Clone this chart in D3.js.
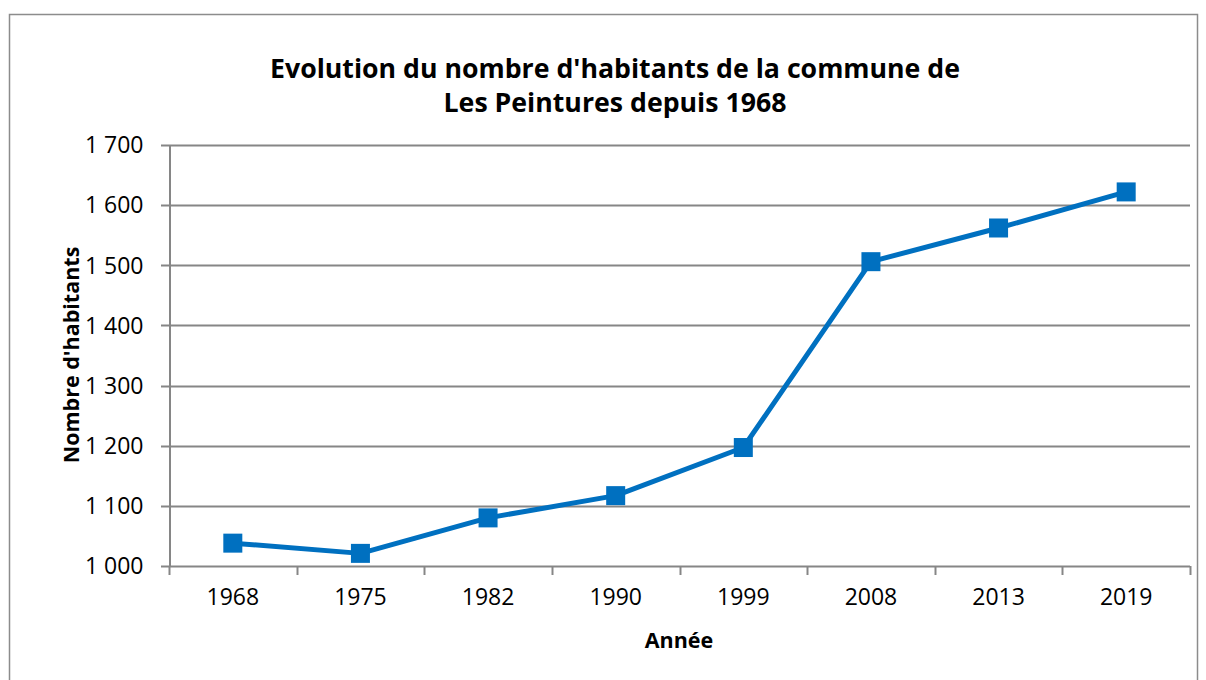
<!DOCTYPE html>
<html>
<head>
<meta charset="utf-8">
<script src="https://cdn.jsdelivr.net/npm/d3@7"></script>
<style>
  body { margin: 0; background: #fff; }
  text { font-family: "Open Sans", "Noto Sans", sans-serif; }
</style>
</head>
<body>
<div id="chart"></div>
<script>
// Data
const years = ['1968', '1975', '1982', '1990', '1999', '2008', '2013', '2019'];
const habitants = [1038, 1021, 1080, 1117, 1197, 1506, 1562, 1622];
const yTicks = [1000, 1100, 1200, 1300, 1400, 1500, 1600, 1700];
const titleLines = ["Evolution du nombre d'habitants de la commune de", "Les Peintures depuis 1968"];

const width = 1206, height = 680;
const margin = { top: 145, right: 16, bottom: 114, left: 169 };

const svg = d3.select('#chart')
    .append('svg')
    .attr('width', width)
    .attr('height', height);

// Chart frame
svg.append('rect')
    .attr('x', 9.5).attr('y', 14.5)
    .attr('width', 1188).attr('height', 700)
    .attr('fill', '#fff')
    .attr('stroke', '#8c8c8c')
    .attr('stroke-width', 1.5);

const x = d3.scaleBand()
    .domain(years)
    .range([margin.left, width - margin.right]);

const y = d3.scaleLinear()
    .domain([1000, 1700])
    .range([height - margin.bottom, margin.top]);

const fmt = d => d3.format(',')(d).replace(',', ' ');

// Gridlines
svg.append('g')
    .selectAll('line')
    .data(yTicks)
    .enter().append('line')
    .attr('x1', margin.left - 8)
    .attr('x2', width - margin.right)
    .attr('y1', d => Math.round(y(d)) + 0.5)
    .attr('y2', d => Math.round(y(d)) + 0.5)
    .attr('stroke', '#868686')
    .attr('stroke-width', 2);

// Y axis
const yAxis = svg.append('g')
    .attr('transform', `translate(${margin.left + 0.5},0)`)
    .call(d3.axisLeft(y).tickValues(yTicks).tickFormat(fmt).tickSize(0).tickPadding(26));
yAxis.select('.domain').attr('stroke', '#868686').attr('stroke-width', 2);
yAxis.selectAll('text')
    .style('font-size', '23px')
    .attr('fill', '#000')
    .attr('dy', '0.34em')
    .attr('font-family', 'Open Sans, sans-serif');

// X axis
const xAxis = svg.append('g')
    .attr('transform', `translate(0,${Math.round(y(1000)) + 0.5})`)
    .call(d3.axisBottom(x).tickSize(0).tickPadding(22));
xAxis.select('.domain').remove();
xAxis.selectAll('text')
    .style('font-size', '23px')
    .attr('fill', '#000')
    .attr('font-family', 'Open Sans, sans-serif');

// X tick marks between categories
const xEdges = years.map(d => x(d)).concat([x(years[years.length - 1]) + x.bandwidth()]);
svg.append('g')
    .selectAll('line')
    .data(xEdges)
    .enter().append('line')
    .attr('x1', d => Math.round(d) + 0.5)
    .attr('x2', d => Math.round(d) + 0.5)
    .attr('y1', y(1000))
    .attr('y2', y(1000) + 9)
    .attr('stroke', '#868686')
    .attr('stroke-width', 2);

// Line
const cx = d => x(d) + x.bandwidth() / 2;
const data = years.map((yr, i) => ({ yr, v: habitants[i] }));

svg.append('path')
    .datum(data)
    .attr('fill', 'none')
    .attr('stroke', '#0070C0')
    .attr('stroke-width', 5)
    .attr('stroke-linejoin', 'round')
    .attr('d', d3.line().x(d => cx(d.yr)).y(d => y(d.v)));

// Square markers
const ms = 19;
svg.append('g')
    .selectAll('rect')
    .data(data)
    .enter().append('rect')
    .attr('x', d => cx(d.yr) - ms / 2)
    .attr('y', d => y(d.v) - ms / 2)
    .attr('width', ms)
    .attr('height', ms)
    .attr('fill', '#0070C0');

// Title
svg.append('text')
    .attr('x', 615)
    .attr('y', 78)
    .attr('text-anchor', 'middle')
    .style('font-size', '26.7px')
    .style('font-weight', 'bold')
    .selectAll('tspan')
    .data(titleLines)
    .enter().append('tspan')
    .attr('x', 615)
    .attr('dy', (d, i) => i === 0 ? 0 : 34)
    .text(d => d);

// Axis titles
svg.append('text')
    .attr('x', 679)
    .attr('y', 648)
    .attr('text-anchor', 'middle')
    .style('font-size', '21.5px')
    .style('font-weight', 'bold')
    .text('Année');

svg.append('text')
    .attr('transform', 'translate(79,355) rotate(-90)')
    .attr('text-anchor', 'middle')
    .style('font-size', '21.5px')
    .style('font-weight', 'bold')
    .text("Nombre d'habitants");
</script>
</body>
</html>
